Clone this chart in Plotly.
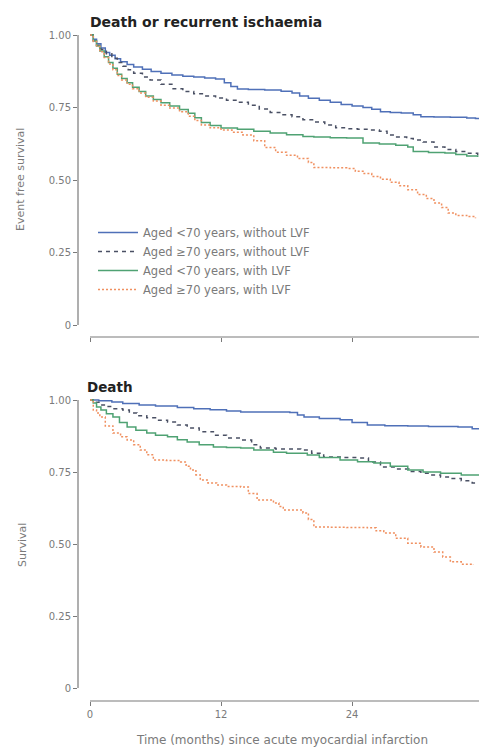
import plotly.graph_objects as go

# ---------------- data ----------------
series_names = ["Aged <70 years, without LVF", "Aged \u226570 years, without LVF",
                "Aged <70 years, with LVF", "Aged \u226570 years, with LVF"]

# Top panel: death or recurrent ischaemia (event free survival)
top_blue_t = [0,0.3,0.6,1.0,1.4,1.8,2.3,2.8,3.4,4.0,4.8,5.6,6.5,7.5,8.5,9.5,10.5,11.5,12.3,12.9,13.5,14.5,16.0,17.5,18.5,19.2,20.0,21.0,22.0,23.0,24.0,25.0,25.8,26.6,27.5,28.5,29.6,30.3,31.5,33.0,34.5,35.3,36]
top_blue_v = [1.0,0.985,0.97,0.955,0.94,0.93,0.918,0.908,0.898,0.89,0.882,0.874,0.868,0.862,0.858,0.855,0.852,0.848,0.835,0.822,0.814,0.812,0.81,0.806,0.80,0.79,0.782,0.775,0.768,0.76,0.755,0.75,0.744,0.735,0.733,0.731,0.725,0.718,0.717,0.716,0.714,0.712,0.71]

top_dash_t = [0,0.3,0.6,1.0,1.5,2.0,2.5,3.0,3.5,4.0,4.8,5.5,6.5,7.5,8.5,9.5,10.5,11.5,12.5,13.5,14.5,15.5,16.5,17.5,18.5,19.5,20.5,21.5,22.5,23.5,24.5,25.5,26.5,27.2,28.0,29.0,29.6,30.5,31.5,32.5,33.5,34.5,35.5]
top_dash_v = [1,0.98,0.965,0.95,0.935,0.92,0.905,0.892,0.88,0.868,0.855,0.845,0.83,0.815,0.805,0.797,0.79,0.783,0.775,0.768,0.758,0.745,0.733,0.725,0.718,0.708,0.7,0.69,0.68,0.677,0.675,0.672,0.668,0.655,0.648,0.643,0.638,0.631,0.614,0.605,0.598,0.592,0.585]

top_green_t = [0,0.3,0.6,0.9,1.3,1.7,2.1,2.5,2.9,3.4,3.9,4.5,5.1,5.8,6.5,7.3,8.2,9.0,9.6,10.2,11.0,12.0,13.5,15.0,16.5,18.0,19.5,20.5,22.0,23.5,24.5,25.0,26.5,28.0,29.1,29.6,31.0,32.5,33.5,34.5,35.5]
top_green_v = [1,0.98,0.962,0.945,0.925,0.905,0.885,0.865,0.85,0.835,0.82,0.805,0.79,0.778,0.766,0.755,0.743,0.73,0.715,0.698,0.688,0.679,0.675,0.668,0.662,0.656,0.65,0.648,0.646,0.645,0.645,0.628,0.624,0.62,0.614,0.598,0.595,0.593,0.588,0.583,0.579]

top_orange_t = [0,0.3,0.6,0.9,1.3,1.7,2.1,2.5,2.9,3.4,3.9,4.5,5.1,5.8,6.5,7.3,8.2,9.0,9.6,10.2,11.0,12.0,13.0,14.0,15.0,16.0,17.0,18.0,19.0,20.0,20.5,22.0,23.5,24.3,25.0,25.8,26.6,27.5,28.3,29.1,30.0,30.8,31.5,32.2,32.8,33.5,34.5,35.3]
top_orange_v = [1,0.978,0.96,0.942,0.922,0.9,0.88,0.86,0.845,0.83,0.815,0.8,0.785,0.772,0.758,0.748,0.735,0.72,0.705,0.69,0.68,0.672,0.665,0.655,0.635,0.612,0.596,0.585,0.574,0.56,0.543,0.542,0.54,0.53,0.522,0.512,0.503,0.492,0.48,0.466,0.45,0.436,0.421,0.405,0.386,0.378,0.374,0.368]

# Bottom panel: death (survival)
bot_blue_t = [0,0.8,2.0,3.0,4.5,6.0,8.0,9.5,11,12.5,13.8,16,18.3,19.0,19.6,21,22.9,24,25.4,27,29.1,31,33.7,35,35.7]
bot_blue_v = [1,0.997,0.993,0.988,0.983,0.979,0.974,0.97,0.966,0.962,0.958,0.958,0.957,0.948,0.941,0.936,0.931,0.922,0.913,0.911,0.91,0.908,0.906,0.9,0.895]

bot_dash_t = [0,0.5,0.9,1.5,2.2,3.0,3.6,4.3,5.2,6.0,7.1,8.0,8.9,10,11.3,12.5,13.8,14.8,15.6,17,19.3,20.3,21.4,23,24.5,25.5,26.6,28,29.2,30.3,31.2,32.1,33,34,35,35.8]
bot_dash_v = [1,0.992,0.983,0.977,0.97,0.965,0.955,0.945,0.938,0.93,0.924,0.913,0.903,0.89,0.878,0.868,0.861,0.845,0.833,0.83,0.826,0.815,0.802,0.8,0.799,0.785,0.767,0.76,0.752,0.746,0.74,0.733,0.727,0.72,0.712,0.708]

bot_green_t = [0,0.3,0.6,1.0,1.5,2.1,2.7,3.4,4.2,5.2,6.0,7.1,8.0,8.9,10,11.3,12.5,13.8,15,16.8,18,19.9,21,22.9,24.5,26,27.5,29.1,30.5,32.1,34,35.7]
bot_green_v = [1,0.99,0.976,0.965,0.952,0.941,0.922,0.906,0.895,0.885,0.878,0.872,0.862,0.854,0.845,0.837,0.835,0.833,0.826,0.819,0.815,0.809,0.8,0.792,0.786,0.781,0.77,0.757,0.75,0.746,0.74,0.733]

bot_orange_t = [0,0.3,0.6,0.9,1.4,2.1,2.8,3.4,4.0,4.6,5.2,5.8,7.0,8.3,8.8,9.2,9.7,10.1,10.8,11.6,12.5,13.8,14.5,15.3,16.8,17.3,17.7,19.5,20.0,20.5,22,23.5,25.4,26.2,26.9,28,29.1,30.3,31.5,32.3,33,34,35.1]
bot_orange_v = [1,0.965,0.955,0.941,0.91,0.885,0.872,0.861,0.845,0.826,0.81,0.792,0.79,0.785,0.77,0.757,0.74,0.722,0.712,0.705,0.7,0.698,0.675,0.653,0.642,0.63,0.618,0.608,0.585,0.559,0.558,0.557,0.556,0.546,0.538,0.52,0.503,0.49,0.472,0.455,0.438,0.43,0.427]

x_ticks = [0, 12, 24, 36]
y_ticks = [0, 0.25, 0.5, 0.75, 1.0]
y_ticktext = ["0", "0.25", "0.50", "0.75", "1.00"]

# ---------------- styles ----------------
colors = ["#4f70b8", "#4a5064", "#4fa273", "#f09060"]
dashes = ["solid", "4px,4px", "solid", "2px,2px"]
W, H = 479, 749
FONT = "DejaVu Sans, Liberation Sans, Arial, sans-serif"
GREY = "#7a7a7a"

fig = go.Figure()
top = [(top_blue_t, top_blue_v), (top_dash_t, top_dash_v), (top_green_t, top_green_v), (top_orange_t, top_orange_v)]
bot = [(bot_blue_t, bot_blue_v), (bot_dash_t, bot_dash_v), (bot_green_t, bot_green_v), (bot_orange_t, bot_orange_v)]
for i, (t, v) in enumerate(top):
    fig.add_trace(go.Scatter(x=t, y=v, mode="lines", line_shape="hv", name=series_names[i],
                             legendgroup=str(i), line=dict(color=colors[i], width=1.5, dash=dashes[i]),
                             xaxis="x", yaxis="y"))
for i, (t, v) in enumerate(bot):
    fig.add_trace(go.Scatter(x=t, y=v, mode="lines", line_shape="hv", name=series_names[i],
                             legendgroup=str(i), showlegend=False,
                             line=dict(color=colors[i], width=1.5, dash=dashes[i]),
                             xaxis="x2", yaxis="y2"))

xdom = [78 / W, 1.0]
px_per_month = 10.92
xr = [-(90 - 78) / px_per_month, (W - 90) / px_per_month]

def pyd(px):
    return 1 - px / H

axis_common = dict(showgrid=False, zeroline=False, showline=False, ticks="outside", ticklen=4,
                   tickcolor=GREY, tickwidth=1, tickfont=dict(family=FONT, size=10, color=GREY))

fig.update_layout(
    width=W, height=H, margin=dict(l=0, r=0, t=0, b=0),
    paper_bgcolor="white", plot_bgcolor="white",
    font=dict(family=FONT, color=GREY),
    xaxis=dict(domain=xdom, range=xr, anchor="y", tickvals=x_ticks, showticklabels=False, **axis_common),
    yaxis=dict(domain=[pyd(337), pyd(30)], range=[-12 / 290, 1 + 5 / 290], anchor="x",
               tickvals=y_ticks, ticktext=y_ticktext, **axis_common),
    xaxis2=dict(domain=xdom, range=xr, anchor="y2", tickvals=x_ticks, **axis_common),
    yaxis2=dict(domain=[pyd(701), pyd(395)], range=[-13 / 288, 1 + 5 / 288], anchor="x2",
                tickvals=y_ticks, ticktext=y_ticktext, **axis_common),
    legend=dict(x=93 / W, y=pyd(218), xanchor="left", yanchor="top", bgcolor="rgba(0,0,0,0)",
                font=dict(family=FONT, size=11.5, color=GREY), tracegroupgap=0, itemwidth=40),
    showlegend=True,
)

# axis lines (offset, Stata-like)
for xa, ya in [("x", "y"), ("x2", "y2")]:
    fig.add_shape(type="line", xref=xa + " domain", yref=ya, x0=0, x1=0, y0=0, y1=1,
                  line=dict(color=GREY, width=1.2))
    fig.add_shape(type="line", xref=xa, yref=ya + " domain", x0=0, x1=xr[1] + 1, y0=0, y1=0,
                  line=dict(color=GREY, width=1.2))

# titles
fig.add_annotation(text="<b>Death or recurrent ischaemia</b>", xref="paper", yref="paper",
                   x=88 / W, y=pyd(22), xanchor="left", yanchor="middle", showarrow=False,
                   font=dict(family=FONT, size=14, color="#222"))
fig.add_annotation(text="<b>Death</b>", xref="paper", yref="paper",
                   x=85 / W, y=pyd(387), xanchor="left", yanchor="middle", showarrow=False,
                   font=dict(family=FONT, size=13.5, color="#222"))
fig.add_annotation(text="Event free survival", xref="paper", yref="paper",
                   x=20 / W, y=pyd(180), xanchor="center", yanchor="middle", textangle=-90,
                   showarrow=False, font=dict(family=FONT, size=11, color=GREY))
fig.add_annotation(text="Survival", xref="paper", yref="paper",
                   x=22 / W, y=pyd(545), xanchor="center", yanchor="middle", textangle=-90,
                   showarrow=False, font=dict(family=FONT, size=11, color=GREY))
fig.add_annotation(text="Time (months) since acute myocardial infarction", xref="paper", yref="paper",
                   x=282 / W, y=pyd(740), xanchor="center", yanchor="middle",
                   showarrow=False, font=dict(family=FONT, size=12, color=GREY))

fig.write_html("out.html")
